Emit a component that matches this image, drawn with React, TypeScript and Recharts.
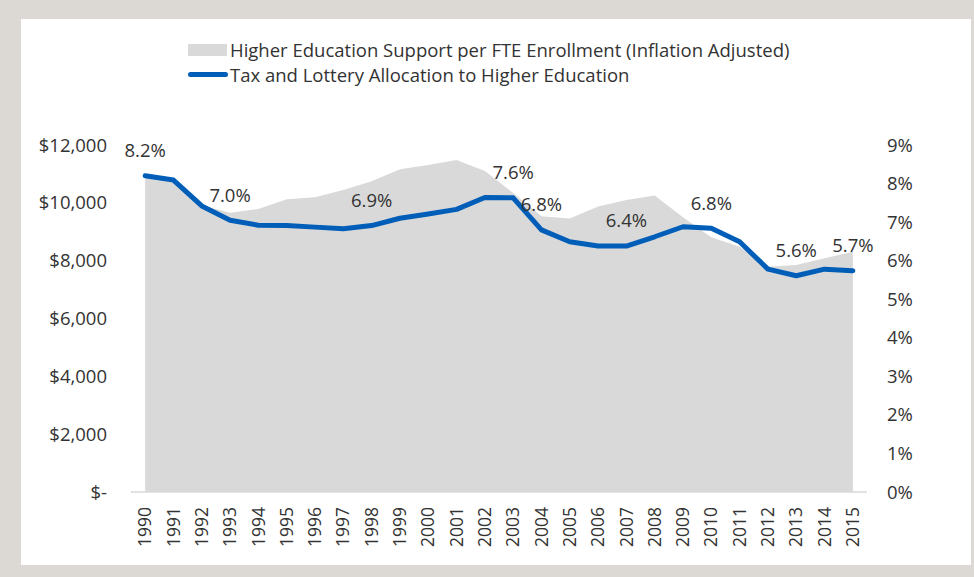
import React from 'react';
import { ComposedChart, Area, Line, XAxis, YAxis, Legend, LabelList } from 'recharts';

const years = ['1990','1991','1992','1993','1994','1995','1996','1997','1998','1999','2000','2001','2002','2003','2004','2005','2006','2007','2008','2009','2010','2011','2012','2013','2014','2015'];
const supportPerFTE = [10930,10850,9920,9660,9790,10120,10190,10440,10750,11160,11310,11480,11100,10340,9540,9460,9870,10100,10250,9500,8810,8480,7790,7850,8080,8310];
const allocationPct = [8.2,8.09,7.42,7.05,6.92,6.91,6.87,6.83,6.91,7.1,7.21,7.33,7.64,7.63,6.8,6.49,6.38,6.38,6.62,6.88,6.84,6.49,5.78,5.61,5.78,5.74];
const labeledYears = ['1990','1993','1998','2003','2004','2007','2010','2013','2015'];
const leftTicks = [0,2000,4000,6000,8000,10000,12000];
const rightTicks = [0,1,2,3,4,5,6,7,8,9];
const seriesNames = ['Higher Education Support per FTE Enrollment (Inflation Adjusted)', 'Tax and Lottery Allocation to Higher Education'];

const data = years.map((y, i) => ({ year: y, support: supportPerFTE[i], pct: allocationPct[i] }));

const FONT = '"Open Sans", sans-serif';
const TEXT = '#333333';
const BLUE = '#005EB8';
const GRAY = '#D9D9D9';
const FS = 18.5;

const fmtDollar = (v: number) => (v === 0 ? '$-' : '$' + v.toLocaleString('en-US'));

const YearTick = (props: any) => {
  const { x, y, payload } = props;
  return (
    <text x={x} y={y} transform={`rotate(-90, ${x}, ${y})`} textAnchor="end" dy="0.35em" fontSize={17.5} fill={TEXT} fontFamily={FONT}>
      {payload.value}
    </text>
  );
};

const PctLabel = (props: any) => {
  const { x, y, value, index } = props;
  if (!labeledYears.includes(years[index])) return null;
  return (
    <text x={x} y={y - 25} dy="0.35em" textAnchor="middle" fontSize={FS} fill={TEXT} fontFamily={FONT}>
      {Number(value).toFixed(1) + '%'}
    </text>
  );
};

const LegendContent = () => (
  <div style={{ fontFamily: FONT, fontSize: FS, color: TEXT, lineHeight: '25px' }}>
    <div style={{ display: 'flex', alignItems: 'center', height: 25 }}>
      <div style={{ width: 39, height: 12, background: GRAY, marginRight: 3 }} />
      <span>{seriesNames[0]}</span>
    </div>
    <div style={{ display: 'flex', alignItems: 'center', height: 25 }}>
      <div style={{ width: 40, height: 5, borderRadius: 3, background: BLUE, marginRight: 2 }} />
      <span>{seriesNames[1]}</span>
    </div>
  </div>
);

export default function App() {
  return (
    <div style={{ position: 'absolute', left: 0, top: 0, width: 974, height: 577, background: '#DCD9D5' }}>
      <div style={{ position: 'absolute', left: 21, top: 19, width: 950, height: 546, background: '#FFFFFF' }}>
        <ComposedChart width={950} height={546} data={data} margin={{ top: 126, right: 44, bottom: 13, left: 50 }}>
          <Legend
            layout="vertical"
            verticalAlign="middle"
            align="center"
            content={<LegendContent />}
            wrapperStyle={{ top: 18, left: 167, width: 720, height: 50 }}
          />
          <XAxis
            dataKey="year"
            interval={0}
            tickLine={false}
            axisLine={{ stroke: GRAY, strokeWidth: 1.5 }}
            tick={<YearTick />}
            tickSize={0}
            tickMargin={15}
            height={60}
            padding={{ left: 14.15, right: 14.15 }}
          />
          <YAxis
            yAxisId="left"
            orientation="left"
            domain={[0, 12000]}
            ticks={leftTicks}
            tickFormatter={fmtDollar}
            axisLine={false}
            tickLine={false}
            tickSize={0}
            tickMargin={24}
            width={60}
            tick={{ fontSize: FS, fill: TEXT, fontFamily: FONT }}
          />
          <YAxis
            yAxisId="right"
            orientation="right"
            domain={[0, 9]}
            ticks={rightTicks}
            tickFormatter={(v: number) => v + '%'}
            axisLine={false}
            tickLine={false}
            tickSize={0}
            tickMargin={20}
            width={60}
            tick={{ fontSize: FS, fill: TEXT, fontFamily: FONT, textAnchor: 'start' }}
          />
          <Area
            yAxisId="left"
            type="linear"
            dataKey="support"
            name={seriesNames[0]}
            stroke="none"
            fill={GRAY}
            fillOpacity={1}
            isAnimationActive={false}
          />
          <Line
            yAxisId="right"
            type="linear"
            dataKey="pct"
            name={seriesNames[1]}
            stroke={BLUE}
            strokeWidth={5}
            strokeLinecap="round"
            strokeLinejoin="round"
            dot={false}
            activeDot={false}
            isAnimationActive={false}
          >
            <LabelList dataKey="pct" content={<PctLabel />} />
          </Line>
        </ComposedChart>
      </div>
    </div>
  );
}
